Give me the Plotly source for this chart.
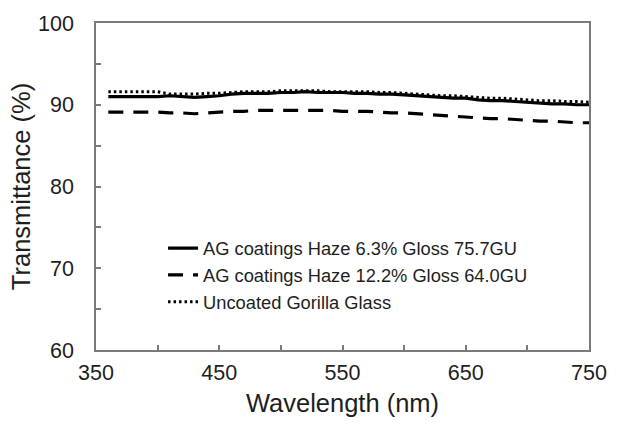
import plotly.graph_objects as go

wavelength = list(range(360, 751, 10))
ag_haze_6_3 = [91.0, 91.0, 91.0, 91.0, 91.0, 91.1, 91.0, 90.9, 91.0, 91.1,
               91.3, 91.4, 91.4, 91.4, 91.5, 91.5, 91.6, 91.5, 91.5, 91.5,
               91.4, 91.4, 91.3, 91.3, 91.2, 91.1, 91.0, 90.9, 90.8, 90.8,
               90.6, 90.5, 90.5, 90.4, 90.3, 90.2, 90.1, 90.1, 90.0, 90.0]
ag_haze_12_2 = [89.1, 89.1, 89.1, 89.1, 89.1, 89.0, 89.0, 88.9, 89.0, 89.1,
                89.2, 89.2, 89.3, 89.3, 89.3, 89.3, 89.3, 89.3, 89.3, 89.2,
                89.2, 89.2, 89.1, 89.0, 89.0, 88.9, 88.8, 88.7, 88.6, 88.5,
                88.4, 88.3, 88.3, 88.2, 88.1, 88.0, 88.0, 87.9, 87.8, 87.8]
uncoated = [91.6, 91.6, 91.6, 91.6, 91.6, 91.3, 91.3, 91.3, 91.4, 91.4,
            91.5, 91.6, 91.6, 91.6, 91.7, 91.7, 91.7, 91.7, 91.6, 91.6,
            91.6, 91.6, 91.5, 91.5, 91.4, 91.3, 91.2, 91.1, 91.1, 91.0,
            90.9, 90.8, 90.8, 90.7, 90.6, 90.5, 90.5, 90.4, 90.4, 90.3]

names = ["AG coatings Haze 6.3% Gloss 75.7GU",
         "AG coatings Haze 12.2% Gloss 64.0GU",
         "Uncoated Gorilla Glass"]

FONT = "Liberation Sans, Arial"
TXT = "#1e1e1e"
AX = "#7a7a7a"

fig = go.Figure()
fig.add_trace(go.Scatter(x=wavelength, y=ag_haze_6_3, mode="lines", name=names[0],
                         line=dict(color="black", width=3.2, dash="solid")))
fig.add_trace(go.Scatter(x=wavelength, y=ag_haze_12_2, mode="lines", name=names[1],
                         line=dict(color="black", width=3.2, dash="15px,10px")))
fig.add_trace(go.Scatter(x=wavelength, y=uncoated, mode="lines", name=names[2],
                         line=dict(color="black", width=3, dash="2.5px,3px")))

axis_common = dict(showline=True, linecolor=AX, linewidth=1.5, mirror=True,
                   showgrid=False, zeroline=False, ticks="inside", ticklen=5,
                   tickcolor=AX, tickwidth=1.5,
                   tickfont=dict(family=FONT, size=21.5, color=TXT))

fig.update_xaxes(range=[350, 750], tick0=350, dtick=100, ticklabelstandoff=2,
                 minor=dict(ticks="inside", dtick=50, tick0=350, ticklen=5,
                            tickcolor=AX, tickwidth=1.5),
                 title=dict(text="Wavelength (nm)", standoff=11,
                            font=dict(family=FONT, size=25.5, color=TXT)),
                 **axis_common)
fig.update_yaxes(range=[60, 100], tick0=60, dtick=10, ticklabelstandoff=16,
                 minor=dict(ticks="inside", dtick=5, tick0=60, ticklen=5,
                            tickcolor=AX, tickwidth=1.5),
                 title=dict(text="Transmittance (%)", standoff=0,
                            font=dict(family=FONT, size=25.5, color=TXT)),
                 **axis_common)

fig.update_layout(
    width=619, height=425,
    margin=dict(l=96, r=21, t=23, b=72),
    paper_bgcolor="white", plot_bgcolor="white",
    showlegend=True,
    legend=dict(x=0.136, y=0.368, xanchor="left", yanchor="top",
                bgcolor="rgba(0,0,0,0)",
                font=dict(family=FONT, size=18.3, color=TXT),
                itemwidth=30, tracegroupgap=0),
)

fig.write_html("out.html")
